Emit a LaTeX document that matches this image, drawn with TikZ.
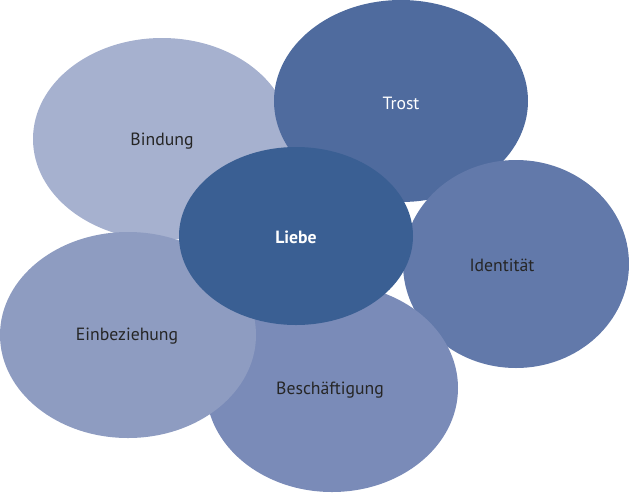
\documentclass[tikz,border=0pt]{standalone}
\usepackage{fontspec}
\setmainfont{PT Sans}
\begin{document}
\begin{tikzpicture}[x=1pt,y=-1pt,
  lbl/.style={font=\fontsize{17.7}{20}\selectfont, text=black!85},
]
\useasboundingbox (0,0) rectangle (629,493);
\definecolor{cBind}{HTML}{A6B1CF}
\definecolor{cTrost}{HTML}{4F6B9E}
\definecolor{cIdent}{HTML}{6279AA}
\definecolor{cBesch}{HTML}{7A8BB8}
\definecolor{cEinb}{HTML}{8E9CC1}
\definecolor{cLiebe}{HTML}{3A5F93}
\fill[cBind] (162,139) ellipse [x radius=129, y radius=101];
\fill[cTrost] (401,101) ellipse [x radius=127, y radius=101];
\fill[cIdent] (516,264) ellipse [x radius=113, y radius=104];
\fill[cBesch] (332,388) ellipse [x radius=126, y radius=104];
\fill[cEinb] (128,335) ellipse [x radius=128, y radius=103];
\fill[cLiebe] (296,236) ellipse [x radius=117, y radius=89];
\node[lbl] (bind) at (162,141) {Bindung};
\node[lbl, text=white] (trost) at (401,103) {Trost};
\node[lbl] (ident) at (502,265) {Identität};
\node[lbl] (besch) at (330,390) {Beschäftigung};
\node[lbl] (einb) at (127,336) {Einbeziehung};
\node[lbl, text=white, font=\fontsize{17.7}{20}\selectfont\bfseries] (liebe) at (296,237) {Liebe};
\end{tikzpicture}
\end{document}
